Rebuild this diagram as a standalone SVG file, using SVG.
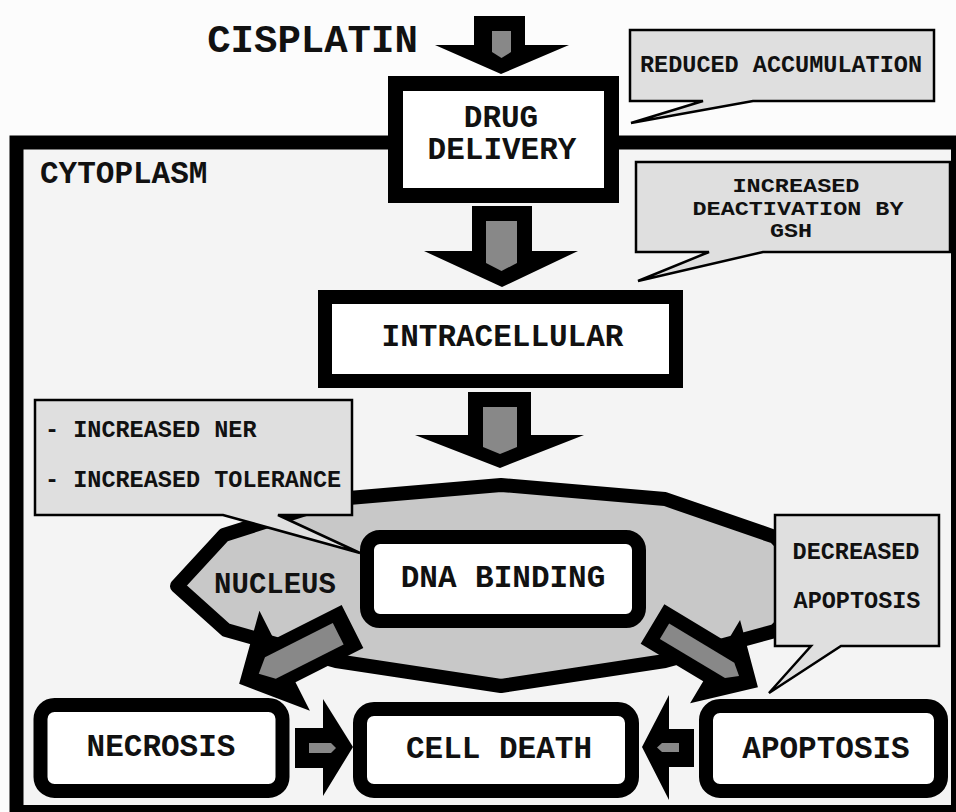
<svg xmlns="http://www.w3.org/2000/svg" width="956" height="812" viewBox="0 0 956 812">
<style>
text{font-family:"Liberation Mono","Courier New",monospace;font-weight:bold;fill:#111}
.lbl{font-size:31px;text-anchor:middle}
.call{font-size:23.5px}
.small{font-size:20px}
.mid{text-anchor:middle}
.box{fill:#fff;stroke:#000;stroke-width:14}
.callout{fill:#dfdfdf;stroke:#000;stroke-width:2.5;stroke-linejoin:miter}
.blk{fill:#000}
.gry{fill:#888}
</style>
<rect x="0" y="0" width="956" height="812" fill="#fcfcfc"/>
<g id="cytoplasm">
<rect x="16.5" y="142.5" width="941.5" height="669.5" fill="#f4f4f4" stroke="#000" stroke-width="14"/>
<text x="40" y="183" style="font-size:31px">CYTOPLASM</text>
</g>
<text id="cisplatin" x="312.5" y="52" style="font-size:39px;text-anchor:middle">CISPLATIN</text>
<g id="nucleus">
<polygon points="501,485 665,499 775,537 822,585 775,631 665,661 501,686 336,661 226,630 177,586 224,535 337,499" fill="#c8c8c8" stroke="#000" stroke-width="14" stroke-linejoin="round"/>
<text x="275" y="593" style="font-size:29px;text-anchor:middle">NUCLEUS</text>
</g>
<g id="drug-delivery">
<rect class="box" x="395.5" y="83.5" width="216" height="112" style="stroke-width:15"/>
<text class="lbl" x="501" y="127">DRUG</text>
<text class="lbl" x="502" y="159">DELIVERY</text>
</g>
<g id="intracellular">
<rect class="box" x="325" y="297" width="351" height="84"/>
<text class="lbl" x="502.5" y="346">INTRACELLULAR</text>
</g>
<g id="dna-binding">
<rect class="box" x="367" y="537" width="272" height="84" rx="13"/>
<text class="lbl" x="503" y="587">DNA BINDING</text>
</g>
<g id="necrosis">
<rect class="box" x="40.5" y="705" width="242" height="86" rx="14"/>
<text class="lbl" x="161" y="756">NECROSIS</text>
</g>
<g id="cell-death">
<rect class="box" x="360" y="709" width="272" height="82" rx="14"/>
<text class="lbl" x="499" y="758">CELL DEATH</text>
</g>
<g id="apoptosis">
<rect class="box" x="706" y="706" width="235" height="85" rx="14"/>
<text class="lbl" x="826" y="758">APOPTOSIS</text>
</g>
<g id="connectors">
<path class="blk" d="M474,16 H525 V45 H569 L501,74 L435,45 H474 Z"/>
<path class="gry" d="M492,31 H511 V52 L501.5,58 L492,52 Z"/>
<path class="blk" d="M472,206 H532 V251 H578 L502,287 L424,251 H472 Z"/>
<path class="gry" d="M486,221 H517 V263 L501.5,271 L486,263 Z"/>
<path class="blk" d="M468,392 H531 V435 H584 L500,468 L415,435 H468 Z"/>
<path class="gry" d="M483,407 H517 V447 L500,454 L483,447 Z"/>
<g transform="translate(352.5,626.5) rotate(153.2)">
<path class="blk" d="M0,-24 H76 V-56 L127,0 L76,56 V24 H0 Z"/>
<path class="gry" d="M16,-12 H92 L105,0 L92,12 H16 Z"/>
</g>
<g transform="translate(652.5,624) rotate(31)">
<path class="blk" d="M0,-23 H73 V-48.5 L123,0 L73,48.5 V23 H0 Z"/>
<path class="gry" d="M14,-9 H90 L101,0 L90,9 H14 Z"/>
</g>
<path class="blk" d="M295,728 H323 V699 L353,747 L323,796 V768 H295 Z"/>
<path class="gry" d="M309,743 H331 L336,748 L331,753 H309 Z"/>
<path class="blk" d="M694,729 H669 V695 L642,747 L669,800 V767 H694 Z"/>
<path class="gry" d="M679,743 H662 L657,747.5 L662,752 H679 Z"/>
</g>
<g id="callout-reduced-accumulation">
<path class="callout" d="M630,30 H934 V101 H753 L631,123 L703,101 H630 Z"/>
<text class="call mid" x="781" y="72">REDUCED ACCUMULATION</text>
</g>
<g id="callout-gsh">
<path class="callout" d="M636,162 H950 V252 H763 L638,281 L709,252 H636 Z"/>
<text class="small mid" x="796" y="192" textLength="127" lengthAdjust="spacingAndGlyphs">INCREASED</text>
<text class="small mid" x="798" y="215" textLength="211" lengthAdjust="spacingAndGlyphs">DEACTIVATION BY</text>
<text class="small mid" x="791" y="237" textLength="42" lengthAdjust="spacingAndGlyphs">GSH</text>
</g>
<g id="callout-ner">
<path class="callout" d="M35,400 H352 V515 H278 L360,553 L223,515 H35 Z"/>
<text class="call" x="45" y="437">- INCREASED NER</text>
<text class="call" x="45" y="487">- INCREASED TOLERANCE</text>
</g>
<g id="callout-apoptosis">
<path class="callout" d="M775,515 H939 V646 H841 L769,693 L811,646 H775 Z"/>
<text class="call mid" x="856" y="559">DECREASED</text>
<text class="call mid" x="857" y="608">APOPTOSIS</text>
</g>
</svg>
